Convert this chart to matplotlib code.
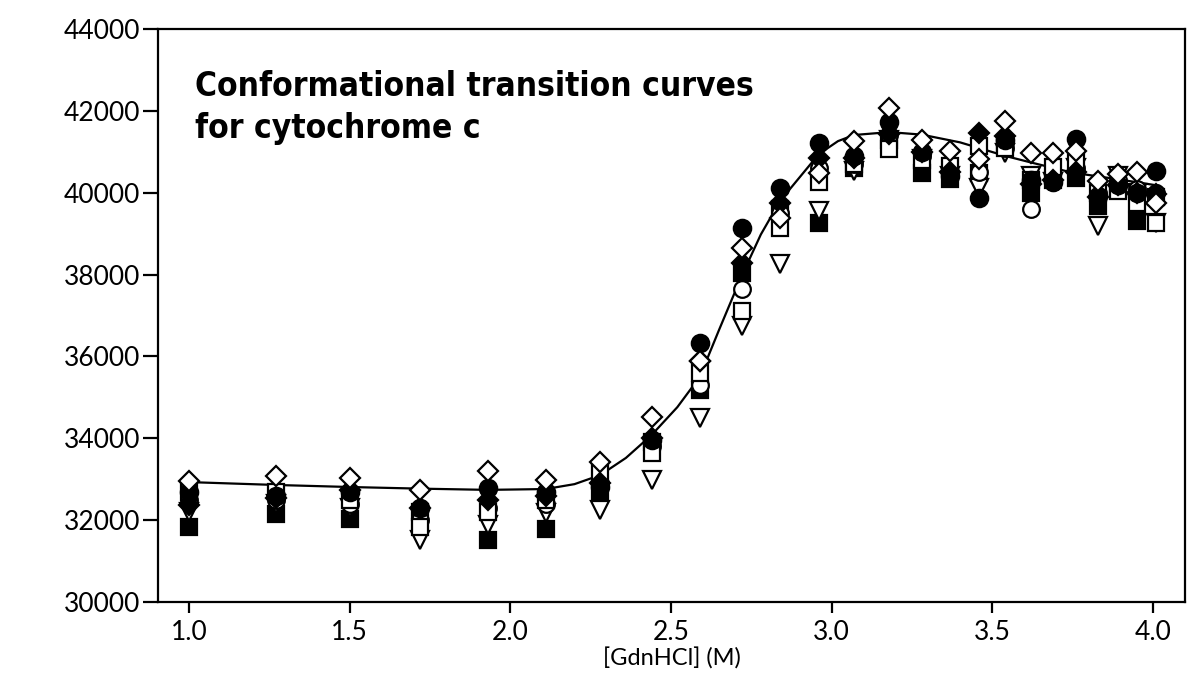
import numpy as np
import matplotlib
matplotlib.use("Agg")
import matplotlib.pyplot as plt

# concentraciones de GdnHCl (M)
conc = [1.0, 1.27, 1.5, 1.72, 1.93, 2.11, 2.28, 2.44, 2.59, 2.72, 2.84, 2.96, 3.07,
        3.18, 3.28, 3.37, 3.46, 3.54, 3.62, 3.69, 3.76, 3.83, 3.89, 3.95, 4.01]

# una serie por simbolo
circulo_lleno = [32700, 32600, 32700, 32300, 32790, 32700, 32800, 33950, 36330, 39130, 40120, 41210, 40900,
                 41720, 41000, 40400, 39880, 41300, 40300, 40250, 41320, 39920, 40200, 40000, 40530]
circulo_vacio = [32500, 32500, 32400, 32000, 32300, 32400, 32900, 33800, 35300, 37640, 39500, 40600, 40700,
                 41400, 40900, 40500, 40500, 41100, 39590, 40250, 40600, 40000, 40300, 40100, 40000]
cuadrado_lleno = [31840, 32150, 32030, 32210, 31520, 31790, 32700, 33900, 35190, 38050, 39600, 39270, 40600,
                  41300, 40490, 40330, 40490, 41200, 40000, 40300, 40370, 39680, 40100, 39310, 39900]
cuadrado_vacio = [32700, 32700, 32500, 31840, 32210, 32500, 33160, 33650, 35600, 37100, 39150, 40250, 40700,
                  41060, 40800, 40650, 41150, 41100, 40300, 40620, 40780, 40000, 40040, 39760, 39270]
rombo_lleno = [32370, 32550, 32740, 32300, 32500, 32600, 32910, 34010, 35900, 38290, 39760, 40860, 40860,
               41430, 41000, 40500, 41450, 41390, 40210, 40300, 40500, 39900, 40200, 40000, 39960]
rombo_vacio = [32960, 33080, 33040, 32740, 33210, 32990, 33420, 34530, 35880, 38660, 39390, 40490, 41270,
               42080, 41300, 41020, 40820, 41760, 40980, 40980, 41020, 40290, 40450, 40510, 39760]
triangulo_vacio = [32210, 32400, 32300, 31520, 31880, 32180, 32250, 32990, 34500, 36740, 38250, 39550, 40530,
                   41300, 40820, 40400, 40120, 40980, 40400, 40250, 40600, 39190, 40400, 40000, 39270]

# curva ajustada
curva_x = [1.0, 1.27, 1.5, 1.72, 1.93, 2.11, 2.20, 2.28, 2.36, 2.44, 2.52, 2.59, 2.65, 2.72,
           2.78, 2.84, 2.90, 2.96, 3.02, 3.07, 3.18, 3.28, 3.40, 3.54, 3.62, 3.75, 3.89, 4.02]
curva_y = [32930, 32860, 32810, 32770, 32740, 32760, 32880, 33100, 33520, 34080, 34760, 35500, 36650, 37960,
           38980, 39800, 40370, 40940, 41260, 41410, 41480, 41420, 41230, 40900, 40740, 40490, 40330, 40170]

plt.rcParams["font.family"] = ["Lato", "DejaVu Sans"]

fig = plt.figure(figsize=(12, 6.87), dpi=100)
ax = fig.add_axes([0.1317, 0.1237, 0.8558, 0.8341])

ax.plot(curva_x, curva_y, color="black", lw=1.6, zorder=2)

estilo = dict(linestyle="none", markeredgecolor="black", markeredgewidth=1.6, zorder=3)
ax.plot(conc, cuadrado_lleno, marker="s", ms=12, markerfacecolor="black", **estilo)
ax.plot(conc, triangulo_vacio, marker="v", ms=13.5, markerfacecolor="white", **estilo)
ax.plot(conc, circulo_vacio, marker="o", ms=12, markerfacecolor="white", **estilo)
ax.plot(conc, cuadrado_vacio, marker="s", ms=12, markerfacecolor="white", **estilo)
ax.plot(conc, circulo_lleno, marker="o", ms=12.5, markerfacecolor="black", **estilo)
ax.plot(conc, rombo_lleno, marker="D", ms=10.5, markerfacecolor="black", **estilo)
ax.plot(conc, rombo_vacio, marker="D", ms=10.5, markerfacecolor="white", **estilo)

ax.set_xlim(0.904, 4.10)
ax.set_ylim(30000, 44000)
ax.set_xticks(np.arange(1.0, 4.01, 0.5))
ax.set_xticklabels([f"{v:.1f}" for v in np.arange(1.0, 4.01, 0.5)])
ax.set_yticks(np.arange(30000, 44001, 2000))
ax.set_yticklabels([str(v) for v in range(30000, 44001, 2000)])

for s in ax.spines.values():
    s.set_linewidth(1.6)
ax.tick_params(axis="both", labelsize=19, width=1.6, color="black")
ax.tick_params(axis="y", length=11, pad=2)
ax.tick_params(axis="x", length=8, pad=5)

ax.set_xlabel("[GdnHCl] (M)", fontsize=17, labelpad=2)

ax.text(0.036, 0.928, "Conformational transition curves\nfor cytochrome c",
        transform=ax.transAxes, ha="left", va="top", fontsize=24, fontweight="bold",
        fontstretch="condensed", family=["DejaVu Sans"], linespacing=1.35)

plt.savefig("out.png", dpi=100)
